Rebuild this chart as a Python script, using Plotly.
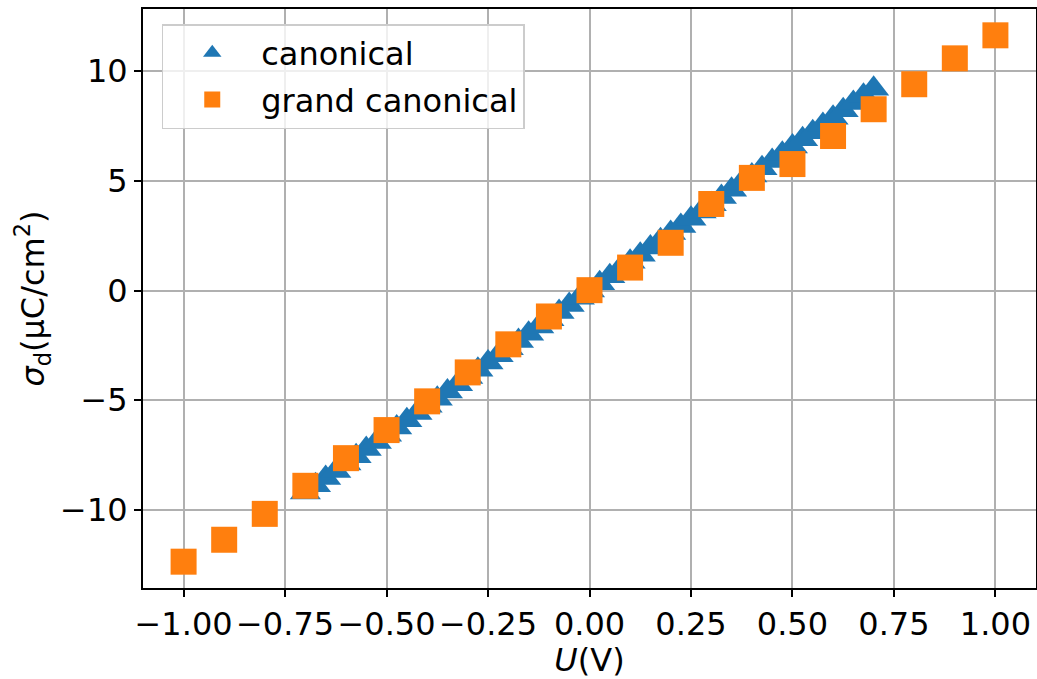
import plotly.graph_objects as go

# canonical ensemble: surface charge vs. potential
U_CANON = [-0.700, -0.675, -0.650, -0.625, -0.600, -0.575, -0.550, -0.525,
           -0.500, -0.475, -0.450, -0.425, -0.400, -0.375, -0.350, -0.325,
           -0.300, -0.275, -0.250, -0.225, -0.200, -0.175, -0.150, -0.125,
           -0.100, -0.075, -0.050, -0.025, 0.000, 0.025, 0.050, 0.075,
           0.100, 0.125, 0.150, 0.175, 0.200, 0.225, 0.250, 0.275,
           0.300, 0.325, 0.350, 0.375, 0.400, 0.425, 0.450, 0.475,
           0.500, 0.525, 0.550, 0.575, 0.600, 0.625, 0.650, 0.675, 0.700]
SIGMA_CANON = [-9.20, -8.88, -8.55, -8.22, -7.88, -7.55, -7.22, -6.90,
               -6.57, -6.24, -5.91, -5.58, -5.25, -4.93, -4.60, -4.27,
               -3.94, -3.61, -3.28, -2.95, -2.63, -2.30, -1.97, -1.64,
               -1.31, -0.98, -0.66, -0.33, 0.00, 0.33, 0.66, 0.98,
               1.31, 1.64, 1.97, 2.30, 2.63, 2.95, 3.28, 3.61,
               3.94, 4.27, 4.60, 4.93, 5.25, 5.58, 5.91, 6.24,
               6.57, 6.90, 7.22, 7.55, 7.88, 8.22, 8.55, 8.88, 9.20]

# grand canonical ensemble
U_GRAND = [-1.0, -0.9, -0.8, -0.7, -0.6, -0.5, -0.4, -0.3, -0.2, -0.1, 0.0,
           0.1, 0.2, 0.3, 0.4, 0.5, 0.6, 0.7, 0.8, 0.9, 1.0]
SIGMA_GRAND = [-12.36, -11.36, -10.18, -8.90, -7.64, -6.36, -5.05, -3.73,
               -2.45, -1.18, 0.02, 1.05, 2.18, 3.95, 5.14, 5.77, 7.05,
               8.27, 9.41, 10.59, 11.64]

X_TICKS = [-1.0, -0.75, -0.5, -0.25, 0.0, 0.25, 0.5, 0.75, 1.0]
Y_TICKS = [-10, -5, 0, 5, 10]

FONT = "DejaVu Sans"
FS = 32

fig = go.Figure()
fig.add_trace(go.Scatter(
    x=U_CANON, y=SIGMA_CANON, mode="markers", name="canonical",
    legendgroup="a",
    marker=dict(symbol="triangle-up", size=27, color="#1f77b4",
                line=dict(width=0)),
))
fig.add_trace(go.Scatter(
    x=U_GRAND, y=SIGMA_GRAND, mode="markers", name="grand canonical",
    legendgroup="b",
    marker=dict(symbol="square", size=26, color="#ff7f0e",
                line=dict(width=0)),
))

axis_common = dict(
    showgrid=True, gridcolor="#b0b0b0", gridwidth=1.6,
    showline=True, linecolor="black", linewidth=2, mirror=True,
    ticks="outside", ticklen=7, tickwidth=1.6, tickcolor="black",
    zeroline=False, automargin=False,
    tickfont=dict(family=FONT, size=FS, color="black"),
)

fig.update_xaxes(
    range=[-1.1, 1.1], tickvals=X_TICKS, tickformat=".2f",
    title=dict(text="<i>U</i>(V)", font=dict(family=FONT, size=FS, color="black"),
               standoff=6),
    **axis_common,
)
fig.update_yaxes(
    range=[-13.56, 12.84], tickvals=Y_TICKS,
    title=dict(text="<i>σ</i><sub>d</sub>(μC/cm<sup>2</sup>)",
               font=dict(family=FONT, size=FS, color="black"), standoff=6),
    **axis_common,
)

fig.update_layout(
    width=1037, height=679,
    margin=dict(l=143, r=1, t=9, b=91),
    plot_bgcolor="white", paper_bgcolor="white",
    font=dict(family=FONT, size=FS, color="black"),
    legend=dict(
        x=0.021, y=0.974, xanchor="left", yanchor="top",
        bgcolor="rgba(255,255,255,0.8)", bordercolor="#cccccc", borderwidth=1.5,
        font=dict(family=FONT, size=FS, color="black"),
        itemwidth=88, tracegroupgap=2, traceorder="grouped",
    ),
    showlegend=True,
)

# drop the default body margin so the figure sits at the page corner
fig.write_html("out.html", config={"displayModeBar": False},
               post_script="document.body.style.margin='0';")
